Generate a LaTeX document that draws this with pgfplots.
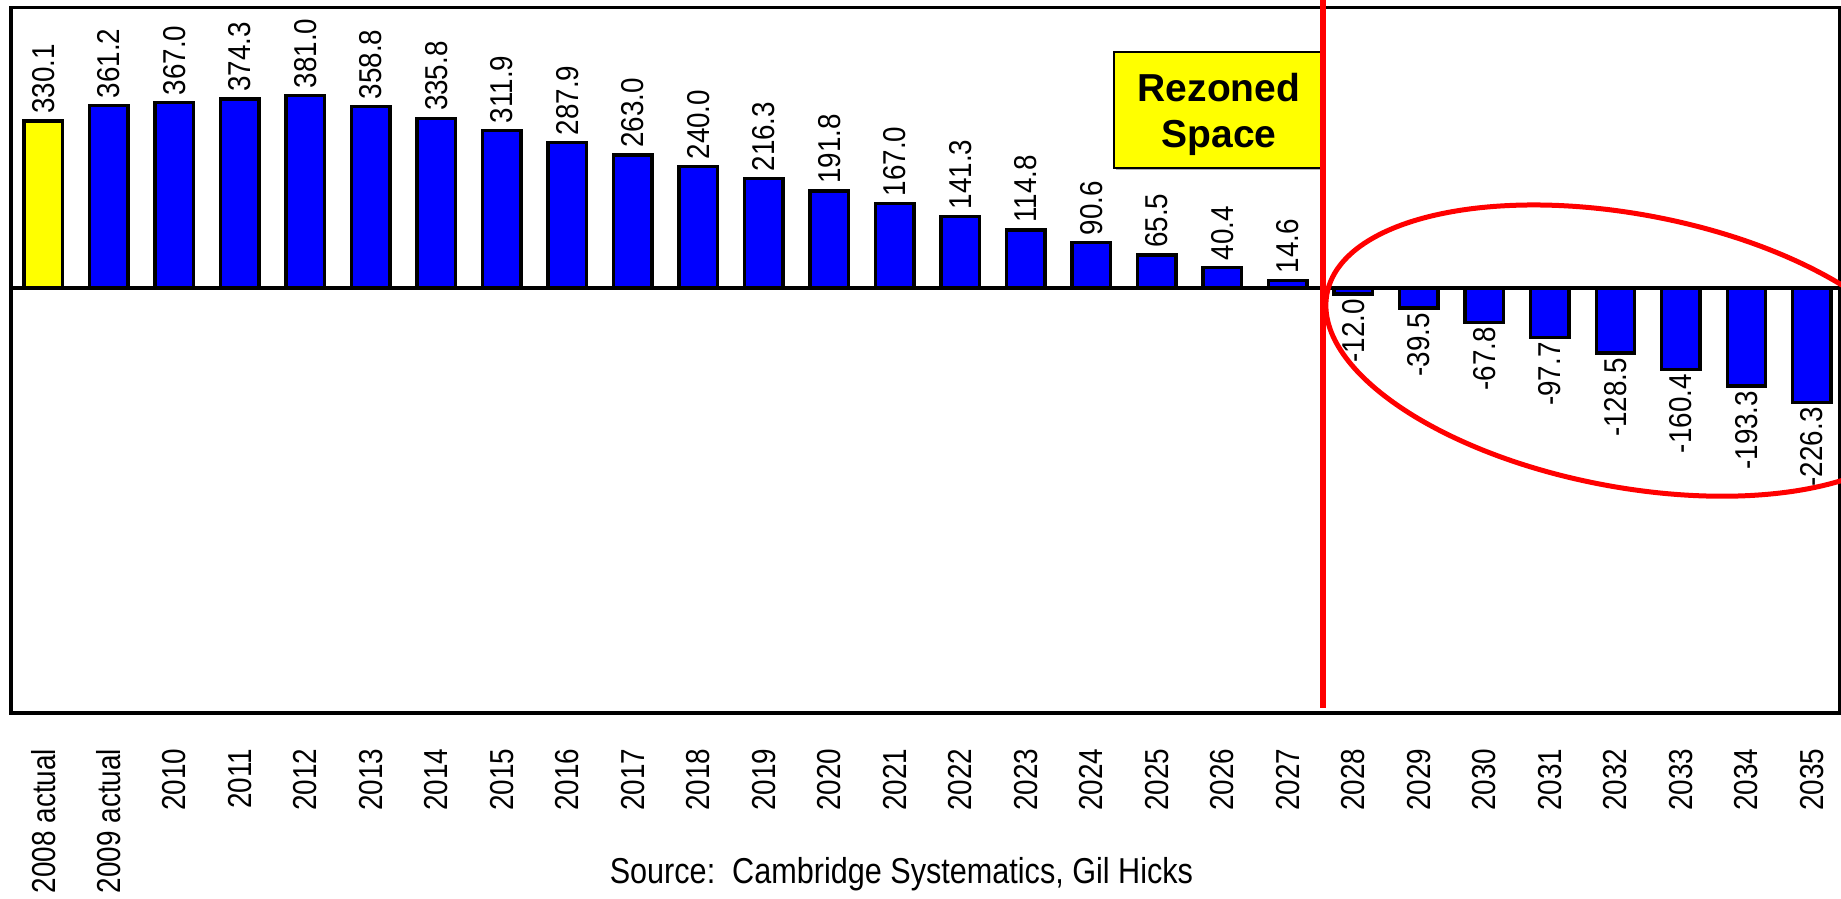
\documentclass[border=0pt]{standalone}
\usepackage{fontspec}
\setmainfont{Liberation Sans}
\newfontfamily\ticklbl[FakeStretch=0.84]{Liberation Sans}
\newfontfamily\vallbl[FakeStretch=0.88]{Liberation Sans}
\newfontfamily\srcfont[FakeStretch=0.85]{Liberation Sans}
\usepackage{pgfplots}
\pgfplotsset{compat=1.18}
\definecolor{barblue}{RGB}{0,0,255}
\definecolor{baryellow}{RGB}{255,255,0}
\definecolor{redline}{RGB}{255,0,0}
\begin{document}
\begin{tikzpicture}
\begin{axis}[
  at={(0pt,0pt)}, anchor=south west,
  scale only axis, width=457.1pt, height=176.4pt,
  xmin=-0.493, xmax=27.42, ymin=-840, ymax=555,
  axis line style={line width=0.85pt, black},
  ytick=\empty,
  xtick={0,...,27},
  xticklabels={2008 actual,2009 actual,2010,2011,2012,2013,2014,2015,2016,2017,2018,2019,2020,2021,2022,2023,2024,2025,2026,2027,2028,2029,2030,2031,2032,2033,2034,2035},
  major tick length=0pt,
  xticklabel style={rotate=90, anchor=east, inner sep=0pt, font=\fontsize{8.3}{10}\ticklbl},
  xticklabel shift=8.75pt,
  clip=false,
  ybar, bar width=9.6pt, bar shift=0pt,
  every axis plot/.append style={draw=black, line width=0.85pt},
  nodes near coords={\pgfmathprintnumber[fixed,fixed zerofill,precision=1,assume math mode=true]{\pgfplotspointmeta}},
  every node near coord/.append style={rotate=90, anchor=west, inner sep=0pt, inner xsep=1.4pt, font=\fontsize{7.9}{9}\vallbl, text=black},
]
\addplot[fill=baryellow] coordinates {(0,330.1)};
\addplot[fill=barblue] coordinates {
(1,361.2) (2,367.0) (3,374.3) (4,381.0) (5,358.8) (6,335.8) (7,311.9) (8,287.9) (9,263.0) (10,240.0)
(11,216.3) (12,191.8) (13,167.0) (14,141.3) (15,114.8) (16,90.6) (17,65.5) (18,40.4) (19,14.6)};
\addplot[fill=barblue, nodes near coords style={anchor=east, inner xsep=0.8pt}] coordinates {
(20,-12.0) (21,-39.5) (22,-67.8) (23,-97.7) (24,-128.5) (25,-160.4) (26,-193.3) (27,-226.3)};
\draw[line width=0.85pt, black] (axis cs:-0.493,0) -- (axis cs:27.42,0);
\end{axis}
% Rezoned Space box
\fill[gray!60] (276.25pt,135.75pt) rectangle (328.5pt,164.75pt);
\draw[line width=0.5pt, fill=baryellow] (275.75pt,136.25pt) rectangle (328pt,165.25pt);
\node[anchor=base, inner sep=0pt, font=\bfseries\fontsize{9.75}{11.5}\selectfont] at (302pt,152.75pt) {Rezoned};
\node[anchor=base, inner sep=0pt, font=\bfseries\fontsize{9.75}{11.5}\selectfont] at (302pt,141.25pt) {Space};
% red vertical line
\draw[redline, line width=1.3pt] (328pt,178.5pt) -- (328pt,1.3pt);
% red ellipse
\draw[redline, line width=1.25pt] (404.25pt,90.6pt) ellipse [x radius=76.6pt, y radius=34.1pt, rotate=-10.7];
% source
\node[anchor=base west, inner sep=0pt, font=\fontsize{9}{11}\srcfont] at (149.5pt,-42.5pt) {Source:\ \ Cambridge Systematics, Gil Hicks};
\pgfresetboundingbox
\path (-2.75pt,-46.5pt) rectangle (457.5pt,178.25pt);
\end{tikzpicture}
\end{document}
